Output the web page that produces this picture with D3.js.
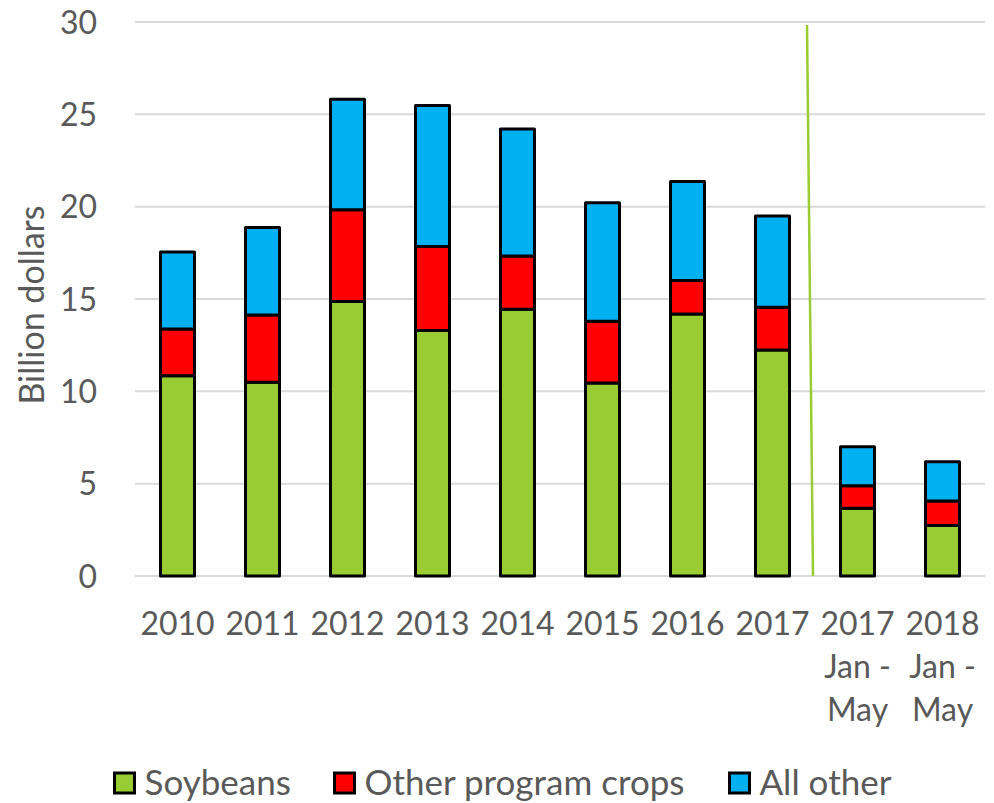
<!DOCTYPE html>
<html lang="en">
<head>
    <meta charset="UTF-8">
    <title>Agricultural exports by category</title>
    <script src="https://d3js.org/d3.v7.min.js"></script>
    <style>
        body { margin: 0; background: #fff; }
        text { font-family: Lato, "Open Sans", sans-serif; fill: #595959; }
        .grid line { stroke: #d9d9d9; stroke-width: 2; }
        .bar { stroke: #000; stroke-width: 3; stroke-linejoin: round; }
    </style>
</head>
<body>
    <div id="chart"></div>
    <script>
        // categories and values (billion dollars)
        const categories = ["2010", "2011", "2012", "2013", "2014", "2015", "2016", "2017", "2017 Jan-May", "2018 Jan-May"];
        const catLabels = [["2010"], ["2011"], ["2012"], ["2013"], ["2014"], ["2015"], ["2016"], ["2017"],
                           ["2017", "Jan -", "May"], ["2018", "Jan -", "May"]];
        const soybeans = [10.85, 10.49, 14.86, 13.29, 14.45, 10.45, 14.19, 12.24, 3.67, 2.73];
        const otherProgram = [2.53, 3.65, 4.97, 4.55, 2.88, 3.35, 1.81, 2.32, 1.22, 1.33];
        const allOther = [4.16, 4.73, 5.99, 7.64, 6.87, 6.41, 5.36, 4.94, 2.11, 2.13];
        const seriesNames = ["Soybeans", "Other program crops", "All other"];
        const seriesColors = ["#99cc33", "#ff0000", "#00b0f0"];
        const yTicks = [0, 5, 10, 15, 20, 25, 30];

        const W = 994, H = 803;
        const margin = { top: 22, right: 9, bottom: 227, left: 135 };
        const width = W - margin.left - margin.right,
              height = H - margin.top - margin.bottom;

        const svg = d3.select("#chart").append("svg")
            .attr("width", W).attr("height", H);
        const g = svg.append("g")
            .attr("transform", `translate(${margin.left},${margin.top})`);

        const table = categories.map((c, i) => ({
            cat: c, Soybeans: soybeans[i], "Other program crops": otherProgram[i], "All other": allOther[i]
        }));
        const stacked = d3.stack().keys(seriesNames)(table);

        const x = d3.scaleBand().domain(categories).range([0, width]).paddingInner(0.6).paddingOuter(0.3);
        const y = d3.scaleLinear().domain([0, 30]).range([height, 0]);

        // gridlines
        g.append("g").attr("class", "grid")
            .selectAll("line").data(yTicks).join("line")
            .attr("x1", 0).attr("x2", width)
            .attr("y1", d => y(d)).attr("y2", d => y(d));

        // y axis labels
        const yAxis = g.append("g")
            .call(d3.axisLeft(y).tickValues(yTicks).tickSize(0).tickPadding(38));
        yAxis.select(".domain").remove();
        yAxis.selectAll("text").style("font-size", "32px").attr("dy", "0.35em");

        // bars
        g.selectAll("g.series").data(stacked).join("g")
            .attr("class", "series")
            .attr("fill", (d, i) => seriesColors[i])
            .selectAll("rect").data(d => d).join("rect")
            .attr("class", "bar")
            .attr("x", d => x(d.data.cat))
            .attr("y", d => y(d[1]))
            .attr("width", x.bandwidth())
            .attr("height", d => y(d[0]) - y(d[1]));

        // divider between full years and Jan-May
        const xa = x(categories[7]) + x.bandwidth(), xb = x(categories[8]);
        const mid = (xa + xb) / 2;
        g.append("line")
            .attr("x1", mid - 8).attr("y1", y(30) + 3)
            .attr("x2", mid - 2).attr("y2", y(0))
            .attr("stroke", "#99cc33").attr("stroke-width", 2.5);

        // x labels
        const xl = g.append("g").selectAll("text").data(categories).join("text")
            .attr("x", d => x(d) + x.bandwidth() / 2)
            .attr("y", height + 59)
            .attr("text-anchor", "middle")
            .style("font-size", "32px");
        xl.selectAll("tspan").data((d, i) => catLabels[i]).join("tspan")
            .attr("x", function() { return this.parentNode.getAttribute("x"); })
            .attr("dy", (d, i) => i === 0 ? 0 : 43)
            .text(d => d);

        // y title
        svg.append("text")
            .attr("transform", "translate(44,305) rotate(-90)")
            .attr("text-anchor", "middle")
            .style("font-size", "34px")
            .text("Billion dollars");

        // legend
        const legendX = [114.5, 334.5, 729.5];
        const lg = svg.append("g").selectAll("g").data(seriesNames).join("g")
            .attr("transform", (d, i) => `translate(${legendX[i]},773)`);
        lg.append("rect")
            .attr("width", 20).attr("height", 20)
            .attr("fill", (d, i) => seriesColors[i])
            .attr("stroke", "#000").attr("stroke-width", 3);
        lg.append("text")
            .attr("x", 30).attr("y", 10).attr("dy", "0.35em")
            .style("font-size", "35px")
            .text(d => d);
    </script>
</body>
</html>
